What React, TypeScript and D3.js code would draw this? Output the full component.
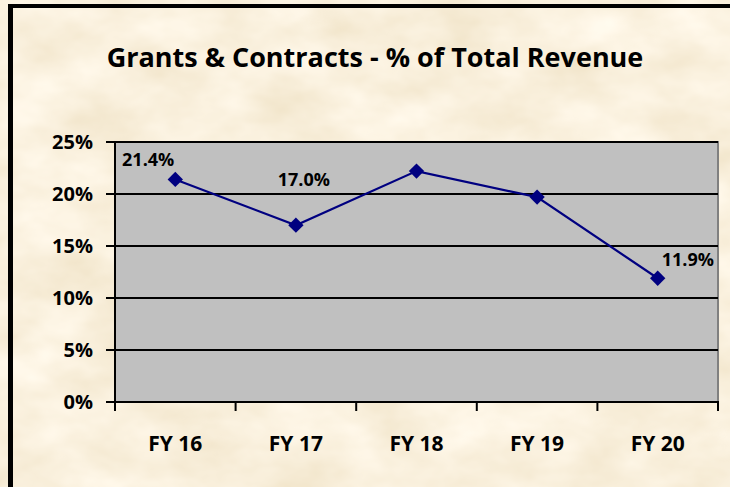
import React from "react";
import * as d3 from "d3";

const categories = ["FY 16", "FY 17", "FY 18", "FY 19", "FY 20"];
const values = [0.214, 0.170, 0.222, 0.197, 0.119];
const labelTexts = ["21.4%", "17.0%", null, null, "11.9%"];
const yTicks = [0, 0.05, 0.1, 0.15, 0.2, 0.25];
const title = "Grants & Contracts - % of Total Revenue";

// label placement (offsets from the point), not data
const labelPlacement = [
  { dx: -1, dy: -13, anchor: "end" },
  { dx: 8, dy: -39, anchor: "middle" },
  null,
  null,
  { dx: 4, dy: -12, anchor: "start" },
];

const W = 730;
const H = 487;
const m = { left: 115, right: 718, top: 142, bottom: 402 };
const FONT = "'Open Sans', sans-serif";

export default function App() {
  const x = d3.scaleBand<string>().domain(categories).range([m.left, m.right]);
  const y = d3.scaleLinear().domain([0, 0.25]).range([m.bottom, m.top]);
  const pts = categories.map((c, i) => [x(c)! + x.bandwidth() / 2, y(values[i])] as [number, number]);
  const line = d3.line()(pts) || "";
  const fmt = d3.format(".0%");
  const diamond = d3.symbol().type(d3.symbolDiamond2).size(150)() || "";

  return (
    <svg width={W} height={H} style={{ position: "absolute", left: 0, top: 0, display: "block" }}>
      <defs>
        <filter id="parch" x="0" y="0" width="100%" height="100%">
          <feTurbulence type="fractalNoise" baseFrequency="0.012 0.02" numOctaves={4} seed={7} result="n" />
          <feColorMatrix
            in="n"
            type="matrix"
            values="0.2 0 0 0 0.85  0.26 0 0 0 0.74  0.38 0 0 0 0.53  0 0 0 0 1"
          />
        </filter>
      </defs>
      <rect x={0} y={0} width={W} height={H} fill="#f1dfb8" />
      <rect x={0} y={0} width={W} height={H} filter="url(#parch)" />
      {/* frame */}
      <rect x={8} y={4} width={W} height={4} fill="#000" />
      <rect x={8} y={4} width={5} height={H} fill="#000" />

      <text x={375} y={67} textAnchor="middle" fontFamily={FONT} fontWeight="bold" fontSize={27} fill="#000">
        {title}
      </text>

      {/* plot area */}
      <rect x={m.left} y={m.top} width={m.right - m.left} height={m.bottom - m.top} fill="#c0c0c0" stroke="#808080" strokeWidth={2} />
      {yTicks.filter((t) => t > 0).map((t) => (
        <line key={t} x1={m.left} x2={m.right} y1={y(t)} y2={y(t)} stroke="#000" strokeWidth={2} />
      ))}
      {/* axes */}
      <line x1={m.left} x2={m.left} y1={m.top} y2={m.bottom} stroke="#000" strokeWidth={2} />
      <line x1={m.left} x2={m.right + 1} y1={m.bottom} y2={m.bottom} stroke="#000" strokeWidth={2} />
      {yTicks.map((t) => (
        <g key={t}>
          <line x1={m.left - 9} x2={m.left} y1={y(t)} y2={y(t)} stroke="#000" strokeWidth={2} />
          <text x={93} y={y(t)} dy="0.36em" textAnchor="end" fontFamily={FONT} fontWeight="bold" fontSize={20} fill="#000">
            {fmt(t)}
          </text>
        </g>
      ))}
      {[...categories.map((c) => x(c)!), m.right].map((xx, i) => (
        <line key={i} x1={xx} x2={xx} y1={m.bottom} y2={m.bottom + 9} stroke="#000" strokeWidth={2} />
      ))}
      {categories.map((c) => (
        <text key={c} x={x(c)! + x.bandwidth() / 2} y={451} textAnchor="middle" fontFamily={FONT} fontWeight="bold" fontSize={21} fill="#000">
          {c}
        </text>
      ))}

      <path d={line} fill="none" stroke="#000080" strokeWidth={2.2} />
      {pts.map((p, i) => (
        <path key={i} d={diamond} transform={`translate(${p[0]},${p[1]})`} fill="#000080" />
      ))}
      {labelTexts.map((t, i) => {
        const pl = labelPlacement[i];
        if (!t || !pl) return null;
        return (
          <text key={i} x={pts[i][0] + pl.dx} y={pts[i][1] + pl.dy} textAnchor={pl.anchor as any} fontFamily={FONT} fontWeight="bold" fontSize={18} fill="#000">
            {t}
          </text>
        );
      })}
    </svg>
  );
}
